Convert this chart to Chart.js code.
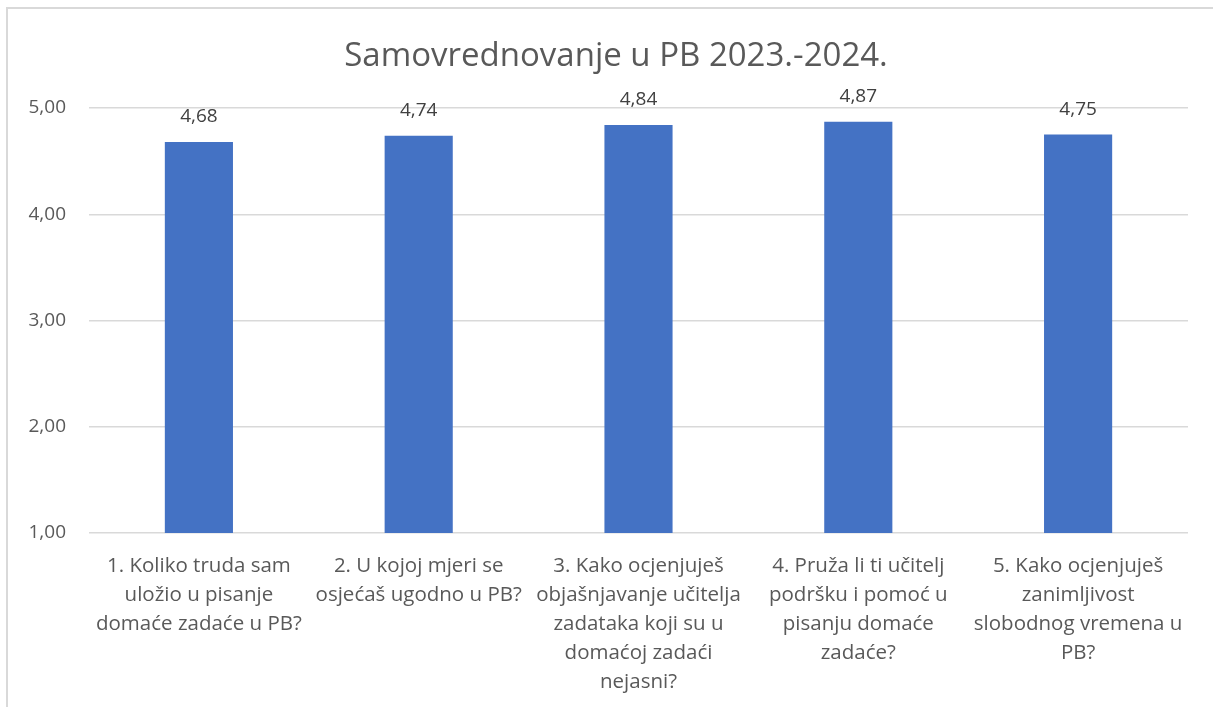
<!DOCTYPE html>
<html>
<head>
<meta charset="utf-8">
<script src="https://cdn.jsdelivr.net/npm/chart.js@4"></script>
<style>
    body { margin: 0; background: #fff; }
    #wrap { position: absolute; left: 0; top: 0; width: 1213px; height: 707px; }
    #frame { position: absolute; left: 6px; top: 7px; right: -10px; bottom: -10px;
             border-left: 2px solid #d9d9d9; border-top: 2px solid #d9d9d9; }
</style>
</head>
<body>
<div id="wrap">
    <div id="frame"></div>
    <canvas id="myChart"></canvas>
</div>
<script>
// data
const questions = [
    ['1. Koliko truda sam', 'uložio u pisanje', 'domaće zadaće u PB?'],
    ['2. U kojoj mjeri se', 'osjećaš ugodno u PB?'],
    ['3. Kako ocjenjuješ', 'objašnjavanje učitelja', 'zadataka koji su u', 'domaćoj zadaći', 'nejasni?'],
    ['4. Pruža li ti učitelj', 'podršku i pomoć u', 'pisanju domaće', 'zadaće?'],
    ['5. Kako ocjenjuješ', 'zanimljivost', 'slobodnog vremena u', 'PB?']
]
const averages = [4.68, 4.74, 4.84, 4.87, 4.75]
const yTicks = [1, 2, 3, 4, 5]

const fontFamily = '"Open Sans", sans-serif'
const fmt = v => v.toFixed(2).replace('.', ',')

// value labels above the bars
const valueLabels = {
    id: 'valueLabels',
    afterDatasetsDraw(chart) {
        const ctx = chart.ctx
        const meta = chart.getDatasetMeta(0)
        ctx.save()
        ctx.font = '19px ' + fontFamily
        ctx.fillStyle = '#404040'
        ctx.textAlign = 'center'
        ctx.textBaseline = 'middle'
        meta.data.forEach((bar, i) => {
            ctx.fillText(fmt(chart.data.datasets[0].data[i]), bar.x, bar.y - 25)
        })
        ctx.restore()
    }
}

// the title in the original sits a bit right of the canvas centre
const titleShift = {
    id: 'titleShift',
    afterLayout(chart) {
        const t = chart.titleBlock
        if (t) {
            t.left = 44
            t.width = t.right - t.left
        }
    }
}

const data = {
    labels: questions,
    datasets: [{
        label: 'Samovrednovanje',
        data: averages,
        backgroundColor: '#4472C4',
        borderWidth: 0,
        categoryPercentage: 1,
        barPercentage: 0.31
    }]
}

const config = {
    type: 'bar',
    data: data,
    plugins: [valueLabels, titleShift],
    options: {
        responsive: false,
        animation: false,
        layout: { padding: { left: 0, right: 25, top: 0, bottom: 0 } },
        plugins: {
            legend: { display: false },
            tooltip: { enabled: false },
            title: {
                display: true,
                text: 'Samovrednovanje u PB 2023.-2024.',
                color: '#595959',
                font: { family: fontFamily, size: 33, weight: 'normal', lineHeight: 1.2 },
                padding: { top: 37, bottom: 31.4 }
            }
        },
        scales: {
            x: {
                grid: { display: false },
                border: { display: false },
                ticks: {
                    color: '#595959',
                    font: { family: fontFamily, size: 20.5, lineHeight: '29px' },
                    padding: 11,
                    maxRotation: 0,
                    autoSkip: false
                },
                afterFit(scale) { scale.height = 174 }
            },
            y: {
                min: 1,
                max: 5,
                afterBuildTicks(scale) { scale.ticks = yTicks.map(v => ({ value: v })) },
                grid: { color: '#d9d9d9', lineWidth: 1.5, drawTicks: false },
                border: { display: false },
                ticks: {
                    color: '#595959',
                    font: { family: fontFamily, size: 19 },
                    padding: 23,
                    callback: v => fmt(v)
                },
                afterFit(scale) { scale.width = 89 }
            }
        }
    }
}

const canvas = document.getElementById('myChart')
canvas.width = 1213
canvas.height = 707
const myChart = new Chart(canvas, config)
</script>
</body>
</html>
